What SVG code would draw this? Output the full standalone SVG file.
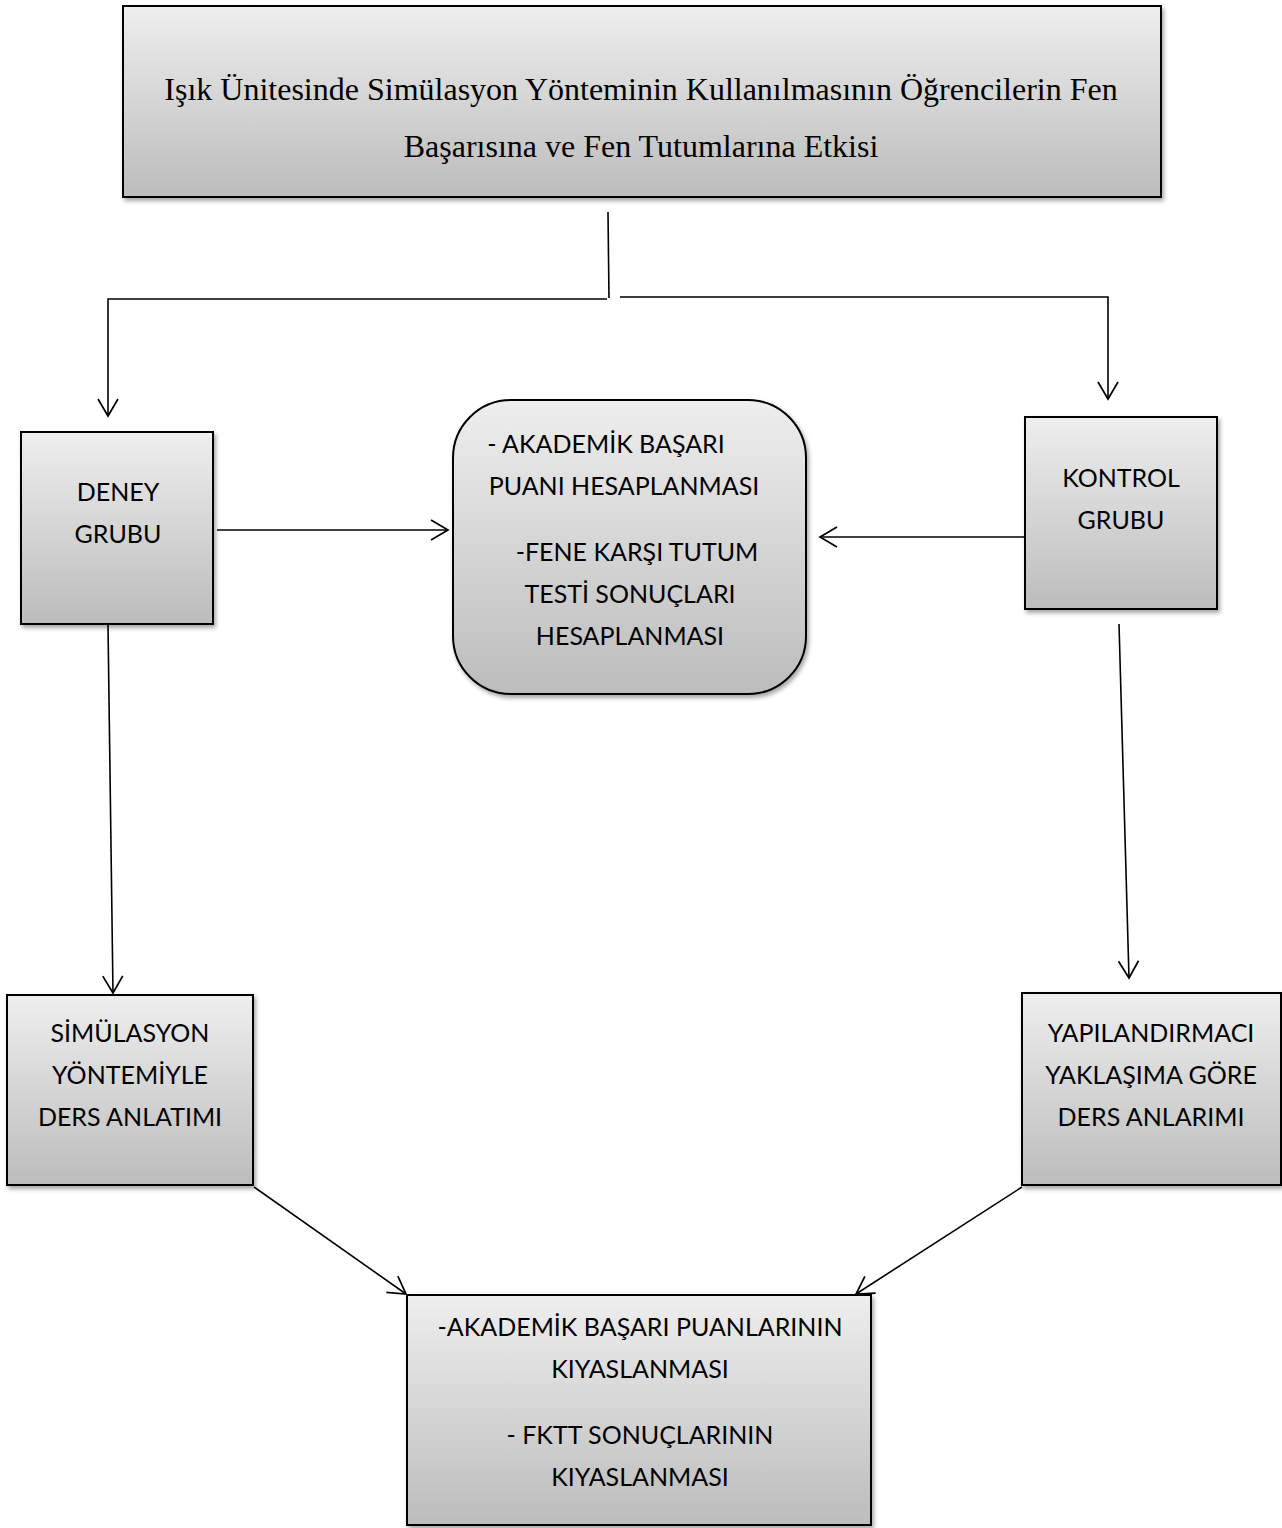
<svg xmlns="http://www.w3.org/2000/svg" width="1282" height="1528" viewBox="0 0 1282 1528">
<defs>
<linearGradient id="g" x1="0" y1="0" x2="0" y2="1">
<stop offset="0" stop-color="#eeeeee"/>
<stop offset="1" stop-color="#bcbcbc"/>
</linearGradient>
<filter id="sh" x="-10%" y="-10%" width="120%" height="120%">
<feDropShadow dx="2" dy="3" stdDeviation="2" flood-color="#000" flood-opacity="0.35"/>
</filter>
<marker id="ah" markerUnits="userSpaceOnUse" markerWidth="24" markerHeight="24" viewBox="0 0 24 24" refX="20" refY="12" orient="auto">
<path d="M3,2 L20,12 L3,22" fill="none" stroke="#000" stroke-width="1.7"/>
</marker>
<style>
.box{fill:url(#g);stroke:#000;stroke-width:2;filter:url(#sh)}
.t{font-family:Lato,"Open Sans",sans-serif;font-size:25px;fill:#000;text-anchor:middle}
.ts{font-family:"Liberation Serif","Times New Roman",serif;font-size:32px;fill:#000;text-anchor:middle}
.c{fill:none;stroke:#000;stroke-width:1.6}
</style>
</defs>
<g id="connectors">
<polyline class="c" points="608,212 609,298"/>
<polyline class="c" points="607,299 108,299 108,416" marker-end="url(#ah)"/>
<polyline class="c" points="620,297 1108,297 1108,399" marker-end="url(#ah)"/>
<line class="c" x1="217" y1="530" x2="448" y2="530" marker-end="url(#ah)"/>
<line class="c" x1="1025" y1="537" x2="820" y2="537" marker-end="url(#ah)"/>
<line class="c" x1="108" y1="625" x2="113" y2="993" marker-end="url(#ah)"/>
<line class="c" x1="1119" y1="624" x2="1129" y2="978" marker-end="url(#ah)"/>
<line class="c" x1="254" y1="1187" x2="406" y2="1294" marker-end="url(#ah)"/>
<line class="c" x1="1022" y1="1187" x2="856" y2="1294" marker-end="url(#ah)"/>
</g>
<g id="title">
<rect class="box" x="123" y="6" width="1038" height="191"/>
<text class="ts" x="641" y="100">Işık Ünitesinde Simülasyon Yönteminin Kullanılmasının Öğrencilerin Fen</text>
<text class="ts" x="641" y="157">Başarısına ve Fen Tutumlarına Etkisi</text>
</g>
<g id="deney">
<rect class="box" x="21" y="432" width="192" height="192"/>
<text class="t" x="118" y="501">DENEY</text>
<text class="t" x="118" y="543">GRUBU</text>
</g>
<g id="hesap">
<rect class="box" x="453" y="400" width="353" height="294" rx="58" ry="58"/>
<text class="t" x="606" y="453">- AKADEMİK BAŞARI</text>
<text class="t" x="624" y="495">PUANI HESAPLANMASI</text>
<text class="t" x="637" y="561">-FENE KARŞI TUTUM</text>
<text class="t" x="630" y="603">TESTİ SONUÇLARI</text>
<text class="t" x="630" y="645">HESAPLANMASI</text>
</g>
<g id="kontrol">
<rect class="box" x="1025" y="417" width="192" height="192"/>
<text class="t" x="1121" y="487">KONTROL</text>
<text class="t" x="1121" y="529">GRUBU</text>
</g>
<g id="simulasyon">
<rect class="box" x="7" y="995" width="246" height="190"/>
<text class="t" x="130" y="1042">SİMÜLASYON</text>
<text class="t" x="130" y="1084">YÖNTEMİYLE</text>
<text class="t" x="130" y="1126">DERS ANLATIMI</text>
</g>
<g id="yapilandirmaci">
<rect class="box" x="1022" y="993" width="259" height="192"/>
<text class="t" x="1151" y="1042">YAPILANDIRMACI</text>
<text class="t" x="1151" y="1084">YAKLAŞIMA GÖRE</text>
<text class="t" x="1151" y="1126">DERS ANLARIMI</text>
</g>
<g id="kiyas">
<rect class="box" x="407" y="1295" width="464" height="230"/>
<text class="t" x="640" y="1336">-AKADEMİK BAŞARI PUANLARININ</text>
<text class="t" x="640" y="1378">KIYASLANMASI</text>
<text class="t" x="640" y="1444">- FKTT SONUÇLARININ</text>
<text class="t" x="640" y="1486">KIYASLANMASI</text>
</g>
</svg>
